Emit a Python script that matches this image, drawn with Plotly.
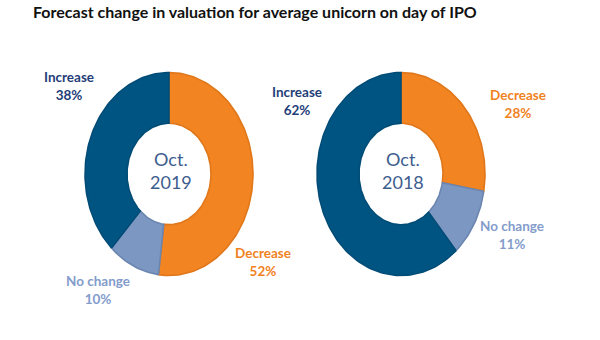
import numpy as np
import plotly.graph_objects as go

# Survey shares, listed clockwise from 12 o'clock
categories = ["Decrease", "No change", "Increase"]
oct_2019 = [52, 10, 38]
oct_2018 = [28, 11, 62]
period_labels = ["Oct.<br>2019", "Oct.<br>2018"]

fill_colors = {"Decrease": "#F28522", "No change": "#7C97C2", "Increase": "#005482"}
edge_colors = {"Decrease": "#E0771A", "No change": "#6A85B0", "Increase": "#004C77"}
text_colors = {"Decrease": "#F0821E", "No change": "#839CCB", "Increase": "#1F3E78"}

# Donut geometry in pixel space (x right, y down)
centers = [(169, 174), (401, 174)]
RX, RY = 84, 101.5
HOLE = 0.5

fig = go.Figure()


def ring_slice(cx, cy, a0, a1):
    """Polygon for one donut slice between fractions a0..a1 (clockwise from top)."""
    t = np.linspace(a0, a1, max(int((a1 - a0) * 240), 4)) * 2 * np.pi
    xo = cx + RX * np.sin(t)
    yo = cy - RY * np.cos(t)
    xi = cx + RX * HOLE * np.sin(t[::-1])
    yi = cy - RY * HOLE * np.cos(t[::-1])
    xs = np.concatenate([xo, xi, xo[:1]])
    ys = np.concatenate([yo, yi, yo[:1]])
    return xs, ys


for (cx, cy), values in zip(centers, [oct_2019, oct_2018]):
    total = float(sum(values))
    start = 0.0
    for cat, v in zip(categories, values):
        end = start + v / total
        xs, ys = ring_slice(cx, cy, start, end)
        fig.add_trace(go.Scatter(
            x=xs, y=ys, mode="lines", fill="toself",
            fillcolor=fill_colors[cat],
            line=dict(color=edge_colors[cat], width=1.6),
            hoverinfo="skip", showlegend=False,
        ))
        start = end

# Slice labels: (chart index, category, x, y)
label_spots = [
    (0, "Increase", 69, 86),
    (0, "Decrease", 263, 262),
    (0, "No change", 98, 290),
    (1, "Increase", 297, 101),
    (1, "Decrease", 518, 104),
    (1, "No change", 512, 235),
]
series = [oct_2019, oct_2018]
annotations = []
for idx, cat, x, y in label_spots:
    val = series[idx][categories.index(cat)]
    annotations.append(dict(
        x=x, y=y, xref="x", yref="y", showarrow=False,
        text=f"<b>{cat}<br>{val}%</b>",
        font=dict(family="Lato", size=13.5, color=text_colors[cat]),
        align="center",
    ))

for (cx, cy), lab in zip(centers, period_labels):
    annotations.append(dict(
        x=cx + 2, y=cy - 4, xref="x", yref="y", showarrow=False,
        text=lab, align="center",
        font=dict(family="Lato", size=18, color="#3D5D8E"),
    ))

annotations.append(dict(
    x=31, y=11, xref="x", yref="y", xanchor="left", showarrow=False,
    text="<b>Forecast change in valuation for average unicorn on day of IPO</b>",
    font=dict(family="Lato", size=16, color="#111111"),
))

fig.update_layout(
    width=600, height=340,
    margin=dict(l=0, r=0, t=0, b=0),
    paper_bgcolor="white", plot_bgcolor="white",
    xaxis=dict(range=[0, 600], visible=False, fixedrange=True),
    yaxis=dict(range=[340, 0], visible=False, fixedrange=True),
    annotations=annotations,
)

fig.write_html("out.html")
